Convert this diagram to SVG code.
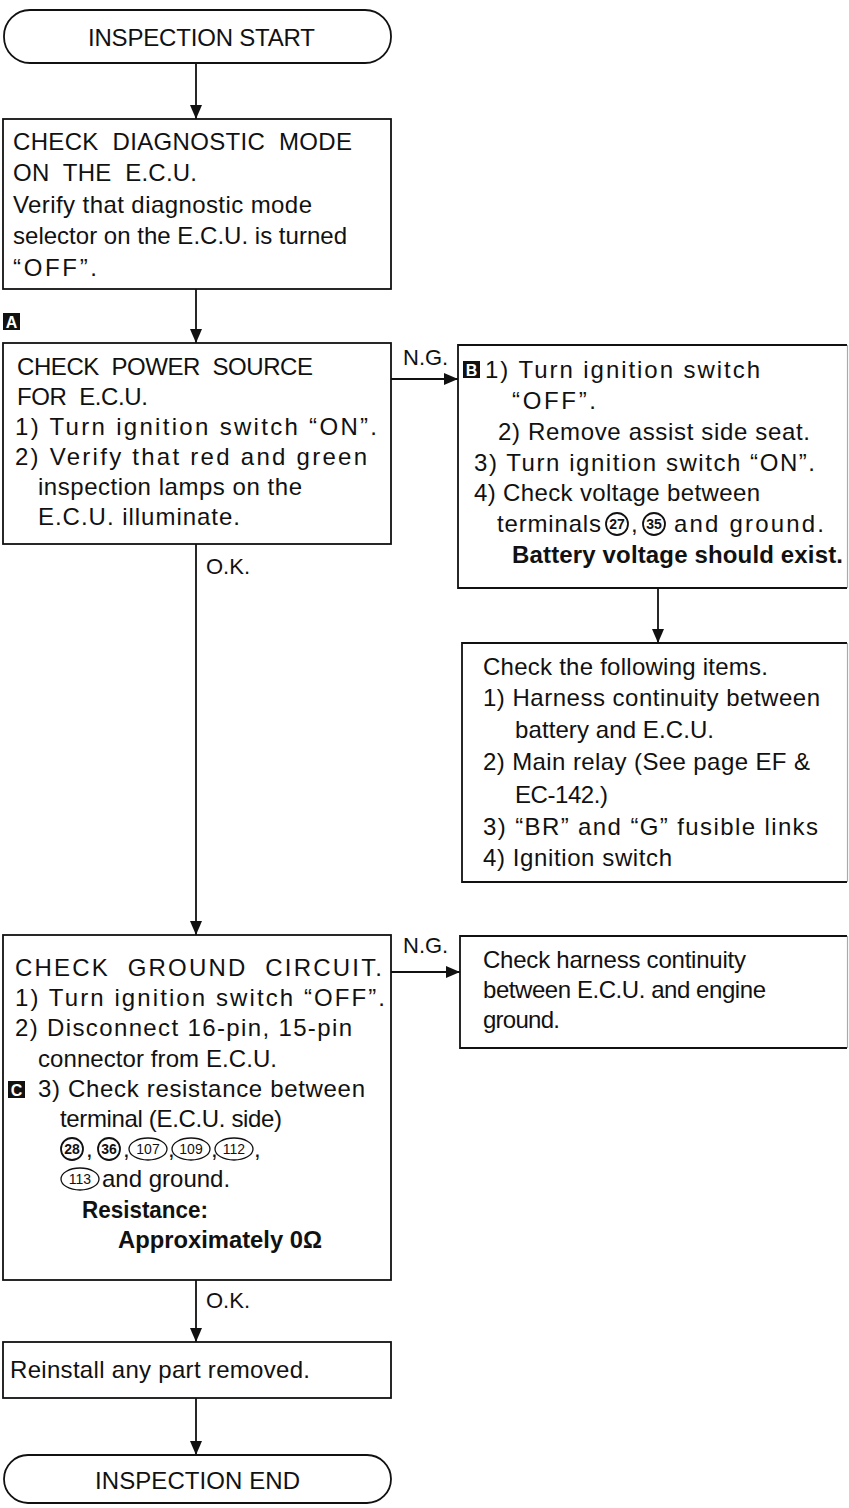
<svg xmlns="http://www.w3.org/2000/svg" width="849" height="1508" viewBox="0 0 849 1508">
<style>
text{font-family:"Liberation Sans",Arial,sans-serif;font-size:24px;fill:#111}
.b{font-weight:bold}
.lbl{font-size:22px}
.box{fill:none;stroke:#111;stroke-width:1.8}
.edge{fill:none;stroke:#aaa;stroke-width:1.2}
.ln{fill:none;stroke:#111;stroke-width:1.8}
.mk{fill:#111}
.mkt{fill:#fff;font-weight:bold;font-size:16px;text-anchor:middle}
.cn{font-size:14px;font-weight:bold;text-anchor:middle}
.cs{font-size:14px;text-anchor:middle}
.circ{fill:none;stroke:#111;stroke-width:1.8}
.ell{fill:none;stroke:#111;stroke-width:1.3}
</style>
<defs>
<marker id="ah" markerUnits="userSpaceOnUse" markerWidth="14" markerHeight="12" refX="14" refY="6" orient="auto">
<path d="M0,0 L14,6 L0,12 z" fill="#111"/>
</marker>
</defs>

<g id="connectors">
<line class="ln" x1="196" y1="63" x2="196" y2="119" marker-end="url(#ah)"/>
<line class="ln" x1="196" y1="289" x2="196" y2="343" marker-end="url(#ah)"/>
<line class="ln" x1="391" y1="379" x2="458" y2="379" marker-end="url(#ah)"/>
<text class="lbl" x="403" y="365">N.G.</text>
<line class="ln" x1="196" y1="544" x2="196" y2="935" marker-end="url(#ah)"/>
<text class="lbl" x="206" y="574">O.K.</text>
<line class="ln" x1="658" y1="588" x2="658" y2="643" marker-end="url(#ah)"/>
<line class="ln" x1="391" y1="972" x2="460" y2="972" marker-end="url(#ah)"/>
<text class="lbl" x="403" y="953">N.G.</text>
<line class="ln" x1="196" y1="1280" x2="196" y2="1342" marker-end="url(#ah)"/>
<text class="lbl" x="206" y="1308">O.K.</text>
<line class="ln" x1="196" y1="1398" x2="196" y2="1455" marker-end="url(#ah)"/>
</g>

<g id="start">
<rect class="box" x="4" y="10" width="387" height="53" rx="26"/>
<text x="88" y="46" textLength="227" lengthAdjust="spacing">INSPECTION START</text>
</g>

<g id="check-diag">
<rect class="box" x="3" y="119" width="388" height="170"/>
<text x="13" y="150" xml:space="preserve" textLength="339" lengthAdjust="spacing">CHECK  DIAGNOSTIC  MODE</text>
<text x="13" y="181" xml:space="preserve" textLength="184" lengthAdjust="spacing">ON  THE  E.C.U.</text>
<text x="13" y="213" textLength="299" lengthAdjust="spacing">Verify that diagnostic mode</text>
<text x="13" y="244" textLength="334" lengthAdjust="spacing">selector on the E.C.U. is turned</text>
<text x="13" y="276" textLength="84" lengthAdjust="spacing">“OFF”.</text>
</g>

<g id="marker-a">
<rect class="mk" x="3" y="313" width="17" height="17"/>
<text class="mkt" x="11.5" y="327.5">A</text>
</g>

<g id="check-power">
<rect class="box" x="3" y="343" width="388" height="201"/>
<text x="17" y="375" xml:space="preserve" textLength="296" lengthAdjust="spacing">CHECK  POWER  SOURCE</text>
<text x="17" y="405" xml:space="preserve" textLength="131" lengthAdjust="spacing">FOR  E.C.U.</text>
<text x="15" y="435" textLength="362" lengthAdjust="spacing">1) Turn ignition switch “ON”.</text>
<text x="15" y="465" textLength="352" lengthAdjust="spacing">2) Verify that red and green</text>
<text x="38" y="495" textLength="264" lengthAdjust="spacing">inspection lamps on the</text>
<text x="38" y="525" textLength="202" lengthAdjust="spacing">E.C.U. illuminate.</text>
</g>

<g id="check-voltage">
<path class="box" d="M847,345 H458 V588 H847"/>
<line class="edge" x1="847.5" y1="345" x2="847.5" y2="588"/>
<rect class="mk" x="463" y="361" width="17" height="17"/>
<text class="mkt" x="471.5" y="375.5">B</text>
<text x="485" y="378" textLength="275" lengthAdjust="spacing">1) Turn ignition switch</text>
<text x="512" y="409" textLength="84" lengthAdjust="spacing">“OFF”.</text>
<text x="498" y="440" textLength="312" lengthAdjust="spacing">2) Remove assist side seat.</text>
<text x="474" y="471" textLength="341" lengthAdjust="spacing">3) Turn ignition switch “ON”.</text>
<text x="474" y="501" textLength="286" lengthAdjust="spacing">4) Check voltage between</text>
<text x="497" y="532" textLength="104" lengthAdjust="spacing">terminals</text>
<circle class="circ" cx="617" cy="524" r="11"/>
<text class="cn" x="617" y="529">27</text>
<text x="631" y="532">,</text>
<circle class="circ" cx="654" cy="524" r="11"/>
<text class="cn" x="654" y="529">35</text>
<text x="674" y="532" textLength="150" lengthAdjust="spacing">and ground.</text>
<text class="b" x="512" y="563" textLength="331" lengthAdjust="spacing">Battery voltage should exist.</text>
</g>

<g id="check-items">
<path class="box" d="M847,643 H462 V882 H847"/>
<line class="edge" x1="847.5" y1="643" x2="847.5" y2="882"/>
<text x="483" y="675" textLength="285" lengthAdjust="spacing">Check the following items.</text>
<text x="483" y="706" textLength="337" lengthAdjust="spacing">1) Harness continuity between</text>
<text x="515" y="738" textLength="199" lengthAdjust="spacing">battery and E.C.U.</text>
<text x="483" y="770" textLength="327" lengthAdjust="spacing">2) Main relay (See page EF &amp;</text>
<text x="515" y="803" textLength="93" lengthAdjust="spacing">EC-142.)</text>
<text x="483" y="835" textLength="335" lengthAdjust="spacing">3) “BR” and “G” fusible links</text>
<text x="483" y="866" textLength="189" lengthAdjust="spacing">4) Ignition switch</text>
</g>

<g id="check-ground">
<rect class="box" x="3" y="935" width="388" height="345"/>
<text x="15" y="976" xml:space="preserve" textLength="367" lengthAdjust="spacing">CHECK  GROUND  CIRCUIT.</text>
<text x="15" y="1006" textLength="370" lengthAdjust="spacing">1) Turn ignition switch “OFF”.</text>
<text x="15" y="1036" textLength="337" lengthAdjust="spacing">2) Disconnect 16-pin, 15-pin</text>
<text x="38" y="1067" textLength="239" lengthAdjust="spacing">connector from E.C.U.</text>
<rect class="mk" x="8" y="1081" width="17" height="17"/>
<text class="mkt" x="16.5" y="1095.5">C</text>
<text x="38" y="1097" textLength="327" lengthAdjust="spacing">3) Check resistance between</text>
<text x="60" y="1127" textLength="222" lengthAdjust="spacing">terminal (E.C.U. side)</text>
<circle class="circ" cx="72" cy="1149" r="11"/>
<text class="cn" x="72" y="1154">28</text>
<text x="86" y="1157">,</text>
<circle class="circ" cx="109" cy="1149" r="11"/>
<text class="cn" x="109" y="1154">36</text>
<text x="123" y="1157">,</text>
<ellipse class="ell" cx="148" cy="1149" rx="19" ry="11"/>
<text class="cs" x="148" y="1154">107</text>
<text x="168" y="1157">,</text>
<ellipse class="ell" cx="191" cy="1149" rx="19" ry="11"/>
<text class="cs" x="191" y="1154">109</text>
<text x="211" y="1157">,</text>
<ellipse class="ell" cx="234" cy="1149" rx="19" ry="11"/>
<text class="cs" x="234" y="1154">112</text>
<text x="254" y="1157">,</text>
<ellipse class="ell" cx="80" cy="1179" rx="19" ry="11"/>
<text class="cs" x="80" y="1184">113</text>
<text x="102" y="1187">and ground.</text>
<text class="b" x="82" y="1218" textLength="126" lengthAdjust="spacingAndGlyphs">Resistance:</text>
<text class="b" x="118" y="1248" textLength="204" lengthAdjust="spacingAndGlyphs">Approximately 0Ω</text>
</g>

<g id="check-harness">
<path class="box" d="M847,936 H460 V1048 H847"/>
<line class="edge" x1="847.5" y1="936" x2="847.5" y2="1048"/>
<text x="483" y="968" textLength="263" lengthAdjust="spacing">Check harness continuity</text>
<text x="483" y="998" textLength="283" lengthAdjust="spacing">between E.C.U. and engine</text>
<text x="483" y="1028" textLength="77" lengthAdjust="spacing">ground.</text>
</g>

<g id="reinstall">
<rect class="box" x="3" y="1342" width="388" height="56"/>
<text x="10" y="1378" textLength="300" lengthAdjust="spacing">Reinstall any part removed.</text>
</g>

<g id="end">
<rect class="box" x="4" y="1455" width="387" height="48" rx="24"/>
<text x="95" y="1489" textLength="205" lengthAdjust="spacing">INSPECTION END</text>
</g>
</svg>
